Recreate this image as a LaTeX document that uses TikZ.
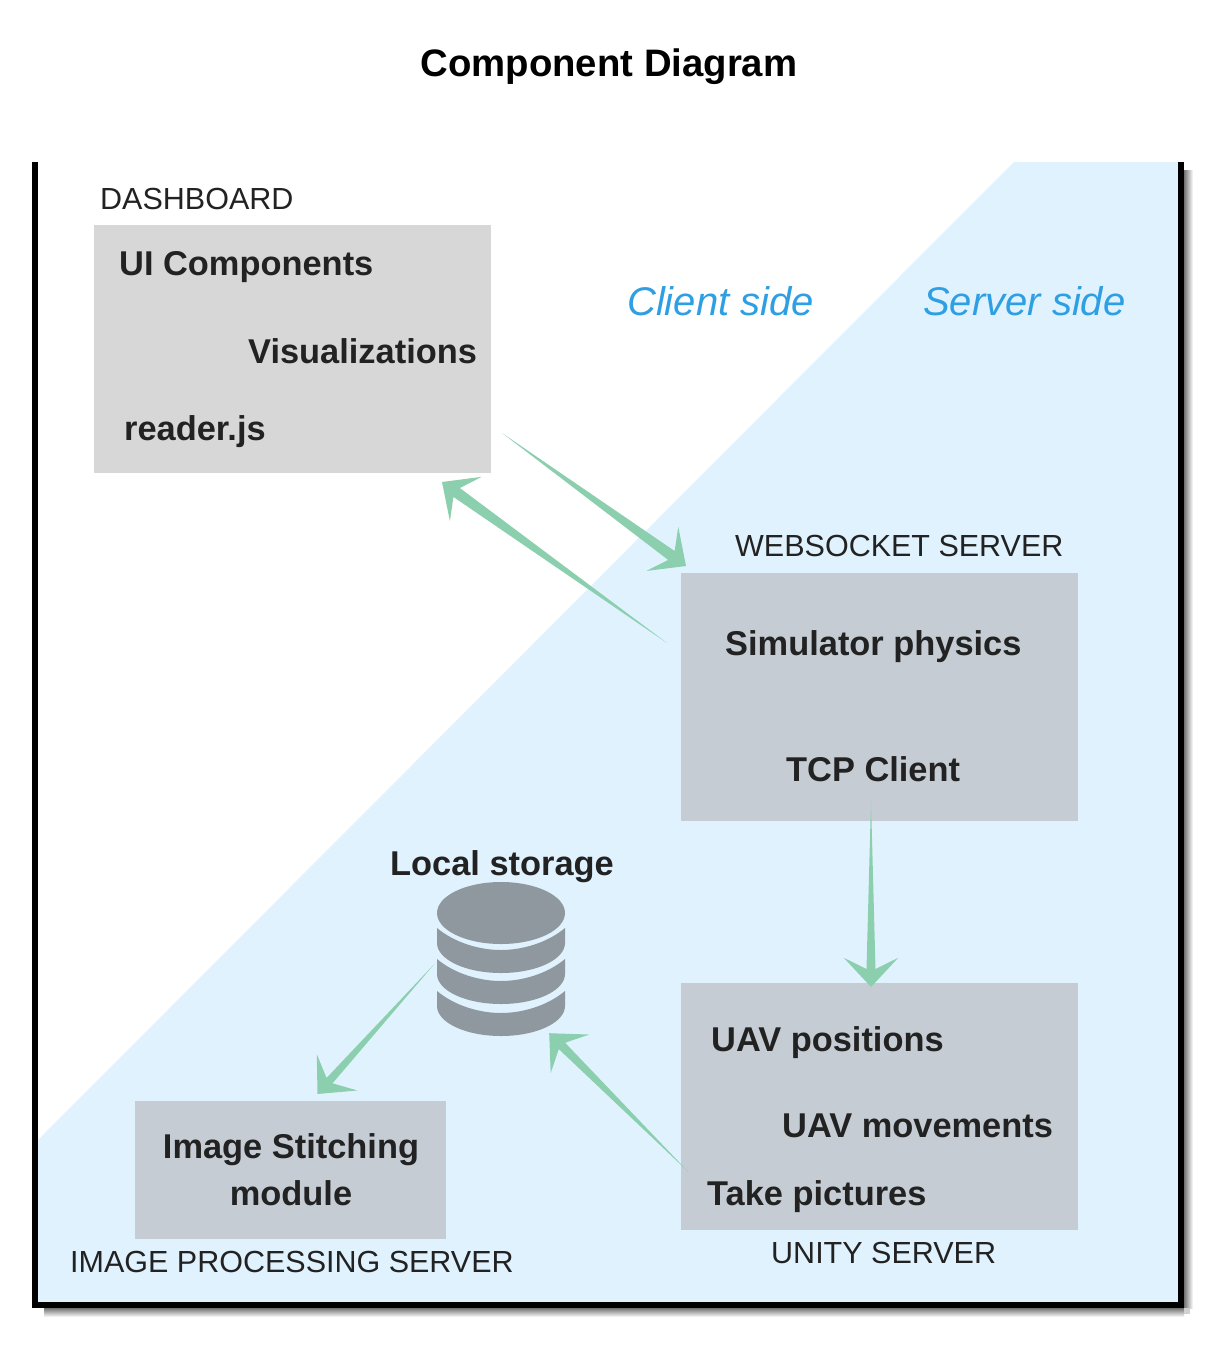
\documentclass[tikz,border=0pt]{standalone}
\usepackage{fontspec}
\setmainfont{Liberation Sans}
\usetikzlibrary{calc}
\definecolor{sidefill}{HTML}{E0F2FE}
\definecolor{clientbox}{HTML}{D7D7D7}
\definecolor{serverbox}{HTML}{C5CCD4}
\definecolor{flowgreen}{HTML}{8BCFAE}
\definecolor{inktext}{HTML}{222222}
\definecolor{sidetext}{HTML}{2F9FE3}
\definecolor{diskgray}{HTML}{8F989E}
\tikzset{
  x=1pt,y=-1pt,
  comp/.style={anchor=north west,minimum width=397pt,minimum height=248pt,inner sep=0pt,outer sep=0pt},
  item/.style={anchor=base west,inner sep=0pt,text=inktext,font=\fontsize{34.4}{47}\selectfont\bfseries},
  tag/.style={anchor=base west,inner sep=0pt,text=inktext,font=\fontsize{30.5}{36}\selectfont},
  side/.style={anchor=base west,inner sep=0pt,text=sidetext,font=\fontsize{40}{46}\selectfont\itshape},
}
\newcommand{\taperarrow}[3]{%
  \coordinate (notch) at ($(#2)!18pt!(#1)$);
  \fill[flowgreen] (#1) -- ($(notch)!#3!90:(#1)$) -- ($(#2)!40pt!43:(#1)$) -- (#2)
    -- ($(#2)!40pt!-43:(#1)$) -- ($(notch)!#3!-90:(#1)$) -- cycle;
}
\begin{document}
\begin{tikzpicture}
\useasboundingbox (0,0) rectangle (1222,1350);
\fill[white] (0,0) rectangle (1222,1350);
% shadow
\shade[left color=black!55,right color=white] (1184,170) rectangle (1193,1308);
\shade[top color=black!55,bottom color=white] (44,1308) rectangle (1184,1317);
\fill[black!18] (1184,1308) rectangle (1190,1314);
% server side background
\fill[sidefill] (1014,162) -- (1178,162) -- (1178,1302) -- (38,1302) -- (38,1140) -- cycle;
% frame
\fill[black] (32,162) rectangle (38,1308);
\fill[black] (1178,162) rectangle (1184,1308);
\fill[black] (32,1302) rectangle (1184,1308);
% title
\node[anchor=base,inner sep=0pt,text=black,font=\fontsize{38.3}{44}\selectfont\bfseries] (title) at (609,76) {Component Diagram};
% boxes
\node[comp,fill=clientbox] (dash) at (94,225) {};
\node[comp,fill=serverbox] (web) at (681,573) {};
\node[comp,fill=serverbox,minimum height=247pt] (unity) at (681,983) {};
\node[comp,fill=serverbox,minimum width=311pt,minimum height=138pt] (stitch) at (135,1101) {};
% tags
\node[tag] (dashtag) at (100,209) {DASHBOARD};
\node[tag] (webtag) at (735,556) {WEBSOCKET SERVER};
\node[tag] (unitytag) at (771,1263) {UNITY SERVER};
\node[tag] (imgtag) at (70,1272) {IMAGE PROCESSING SERVER};
\node[side] (client) at (627,315) {Client side};
\node[side] (server) at (923,315) {Server side};
% items
\node[item] (ui) at (119,275) {UI Components};
\node[item] (vis) at (248,363) {Visualizations};
\node[item] (reader) at (124,440) {reader.js};
\node[item] (sim) at (725,655) {Simulator physics};
\node[item] (tcp) at (786,781) {TCP Client};
\node[item] (pos) at (711,1051) {UAV positions};
\node[item] (mov) at (782,1137) {UAV movements};
\node[item] (take) at (707,1205) {Take pictures};
\node[item,anchor=center,align=center] (stitchtext) at (291,1170) {Image Stitching\\module};
\node[item] (local) at (390,875) {Local storage};
% database icon
\node[inner sep=0pt,minimum width=128pt,minimum height=155pt] (disk) at (501,959.5) {};
\fill[diskgray] (501,913) ellipse [x radius=64,y radius=31];
\foreach \dy in {0,31,63}{
  \begin{scope}[yshift=-\dy pt]
    \fill[diskgray] (437,928) .. controls (455,943) and (480,950) .. (501,950)
      .. controls (522,950) and (547,943) .. (565,928) -- (565,943)
      .. controls (565,959.6) and (536.3,973) .. (501,973)
      .. controls (465.7,973) and (437,959.6) .. (437,943) -- cycle;
  \end{scope}
}
% connectors
\coordinate (a1s) at ($(dash.south east)+(11,-40)$);
\coordinate (a1t) at ($(web.north west)+(5,-7)$);
\taperarrow{a1s}{a1t}{5.5pt}
\coordinate (a2s) at ($(web.north west)+(-14,70)$);
\coordinate (a2t) at ($(dash.south east)+(-49,9)$);
\taperarrow{a2s}{a2t}{5.5pt}
\coordinate (a3s) at ($(web.south)+(-8.5,-20)$);
\coordinate (a3t) at ($(unity.north)+(-8.5,4)$);
\taperarrow{a3s}{a3t}{4.5pt}
\coordinate (a4s) at ($(disk.west)+(-2,4)$);
\coordinate (a4t) at ($(stitch.north)+(27,-7)$);
\taperarrow{a4s}{a4t}{4pt}
\coordinate (a5s) at ($(unity.west)+(7,65)$);
\coordinate (a5t) at ($(disk.south east)+(-16,-4)$);
\taperarrow{a5s}{a5t}{4.5pt}
\end{tikzpicture}
\end{document}
